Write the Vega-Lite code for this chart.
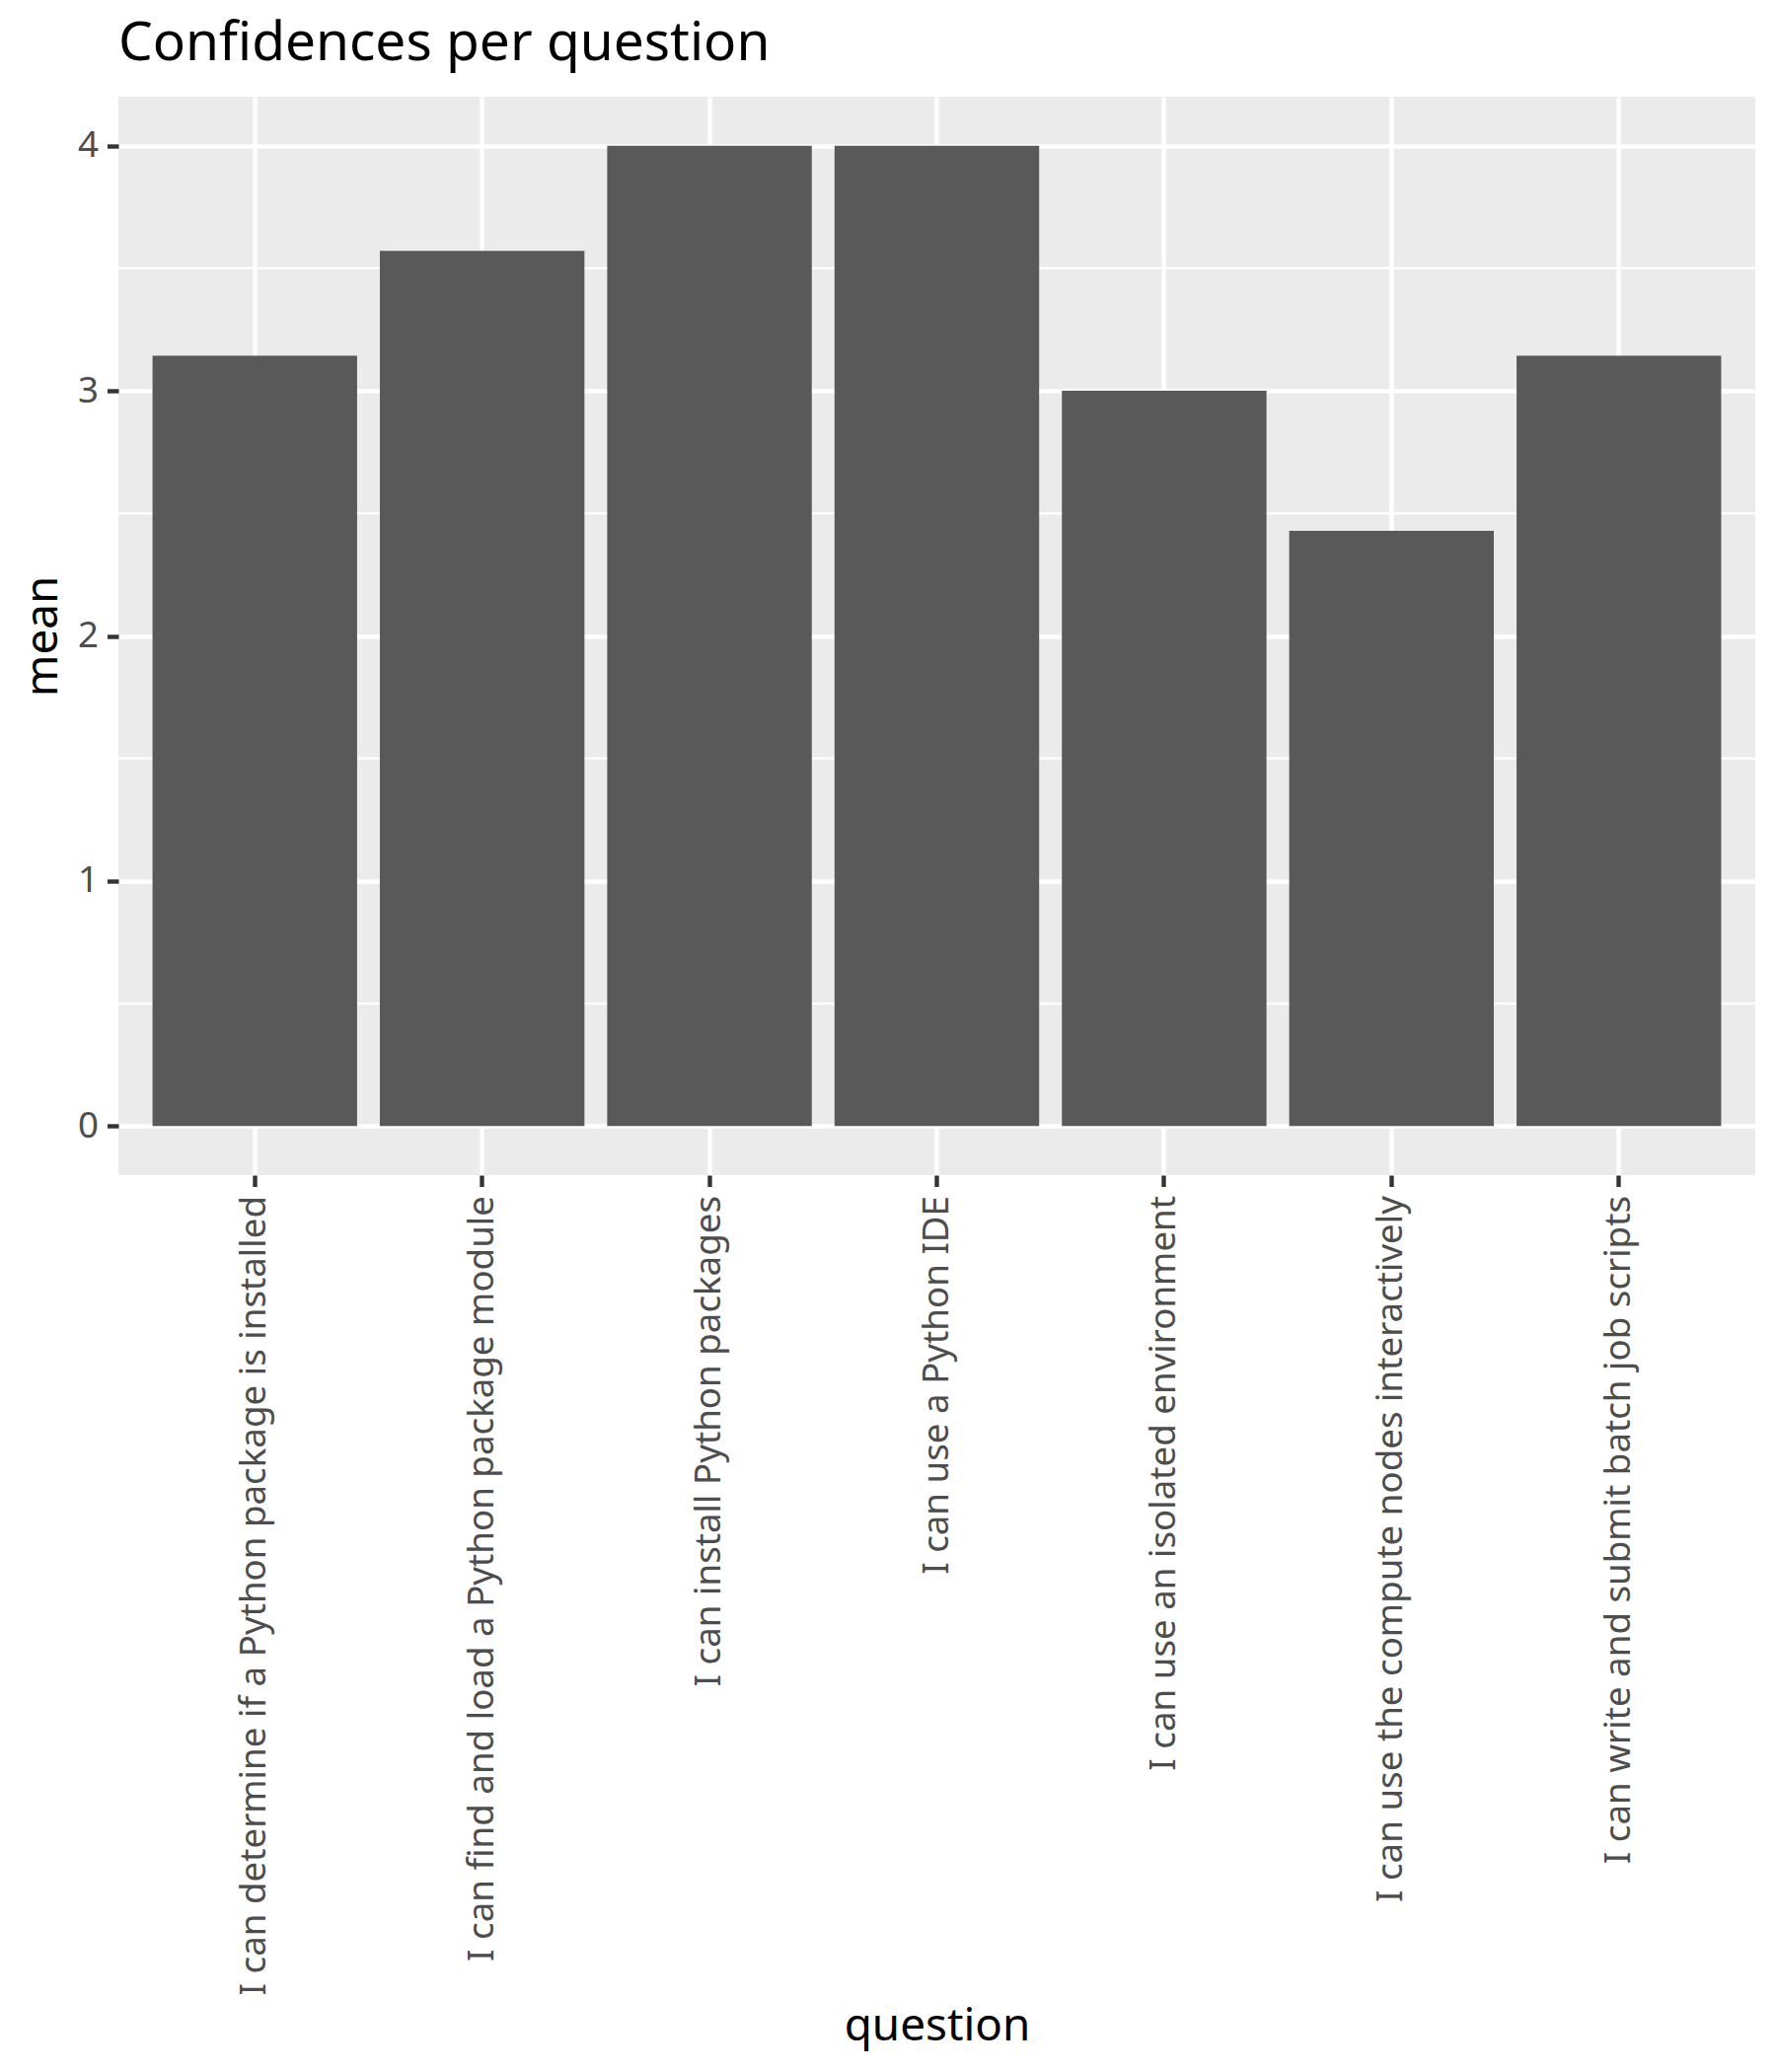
{
  "$schema": "https://vega.github.io/schema/vega-lite/v6.json",
  "autosize": {"type": "none"},
  "padding": {"left": 120, "top": 98, "right": 21, "bottom": 909},
  "width": 1659,
  "height": 1093,
  "background": "white",
  "title": {
    "text": "Confidences per question",
    "anchor": "start",
    "frame": "group",
    "baseline": "alphabetic",
    "offset": -18,
    "font": "Noto Sans",
    "fontSize": 55,
    "fontWeight": "normal",
    "color": "#000000"
  },
  "config": {
    "view": {"fill": "#EBEBEB", "stroke": null},
    "axis": {
      "domain": false,
      "labelFont": "Noto Sans",
      "labelFontSize": 36.7,
      "labelColor": "#4D4D4D",
      "labelPadding": 9,
      "labelLimit": 2000,
      "tickColor": "#333333",
      "tickSize": 11.5,
      "tickWidth": 4.4,
      "grid": true,
      "gridColor": "#FFFFFF",
      "gridWidth": 4.4,
      "gridOpacity": 1,
      "titleFont": "Noto Sans",
      "titleFontSize": 45.8,
      "titleFontWeight": "normal",
      "titleColor": "#000000"
    }
  },
  "layer": [
    {
      "data": {"values": [{"value": 0.5}, {"value": 1.5}, {"value": 2.5}, {"value": 3.5}]},
      "mark": {"type": "rule", "color": "#FFFFFF", "strokeWidth": 2.2},
      "encoding": {
        "y": {"field": "value", "type": "quantitative", "title": "mean"}
      }
    },
    {
      "data": {
        "values": [
          {"question": "I can determine if a Python package is installed", "mean": 3.142857},
          {"question": "I can find and load a Python package module", "mean": 3.571429},
          {"question": "I can install Python packages", "mean": 4},
          {"question": "I can use a Python IDE", "mean": 4},
          {"question": "I can use an isolated environment", "mean": 3},
          {"question": "I can use the compute nodes interactively", "mean": 2.428571},
          {"question": "I can write and submit batch job scripts", "mean": 3.142857}
        ]
      },
      "mark": {"type": "bar", "color": "#595959"},
      "encoding": {
        "x": {
          "field": "question",
          "type": "nominal",
          "sort": null,
          "scale": {"paddingInner": 0.1, "paddingOuter": 0.15},
          "axis": {
            "labelAngle": 270,
            "bandPosition": 0.5,
            "grid": true,
            "title": "question",
            "titleX": 829.5,
            "titleY": 876,
            "titleAlign": "center",
            "titleBaseline": "alphabetic"
          }
        },
        "y": {
          "field": "mean",
          "type": "quantitative",
          "title": "mean",
          "scale": {"domain": [-0.2, 4.2], "nice": false, "zero": false},
          "axis": {
            "values": [0, 1, 2, 3, 4],
            "format": "d",
            "titleAngle": 270,
            "titleX": -62.5,
            "titleY": 546.5,
            "titleAlign": "center",
            "titleBaseline": "alphabetic"
          }
        }
      }
    }
  ]
}
